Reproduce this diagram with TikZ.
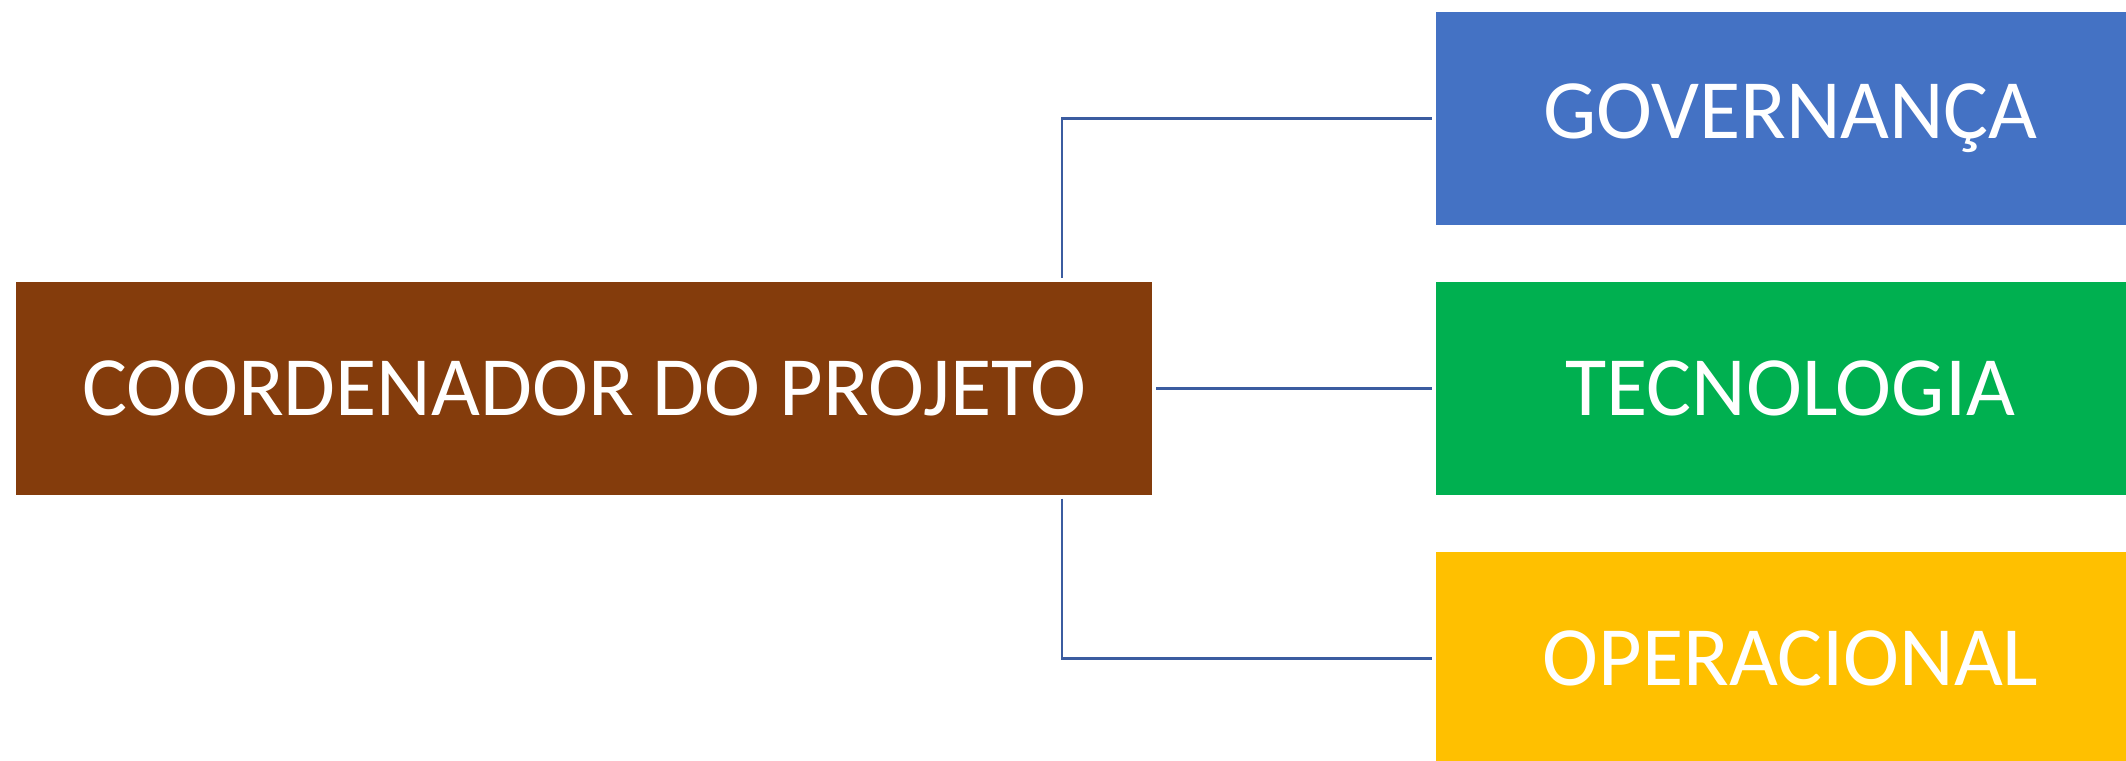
\documentclass[tikz,border=0pt]{standalone}
\usepackage{fontspec}
\setmainfont{Carlito}
\definecolor{cbrown}{HTML}{843C0C}
\definecolor{cblue}{HTML}{4472C4}
\definecolor{cgreen}{HTML}{00B050}
\definecolor{cyellow}{HTML}{FFC000}
\definecolor{cline}{HTML}{3B5CA0}
\begin{document}
\begin{tikzpicture}[x=0.01cm,y=-0.01cm,
  box/.style={rectangle, inner sep=0pt, draw=none, anchor=north west,
    text=white, font=\fontsize{24}{28}\selectfont},
  conn/.style={draw=cline, line width=0.025cm, shorten <=0.03cm, shorten >=0.03cm}]
\useasboundingbox (0,0) rectangle (2126,761);
\clip (0,0) rectangle (2126,761);
\node[box, fill=cbrown, minimum width=11.36cm, minimum height=2.13cm] (coord) at (15,281) {COORDENADOR DO PROJETO};
\node[box, fill=cblue, minimum width=7.09cm, minimum height=2.13cm] (gov) at (1435,11) {GOVERNANÇA};
\node[box, fill=cgreen, minimum width=7.09cm, minimum height=2.13cm] (tec) at (1435,281) {TECNOLOGIA};
\node[box, fill=cyellow, minimum width=7.09cm, minimum height=2.13cm] (ope) at (1435,551) {OPERACIONAL};
\coordinate (bx) at (1062,0);
\draw[conn] (coord.north -| bx) |- (gov.west);
\draw[conn] (coord.east) -- (tec.west);
\draw[conn] (coord.south -| bx) |- (ope.west);
\end{tikzpicture}
\end{document}
